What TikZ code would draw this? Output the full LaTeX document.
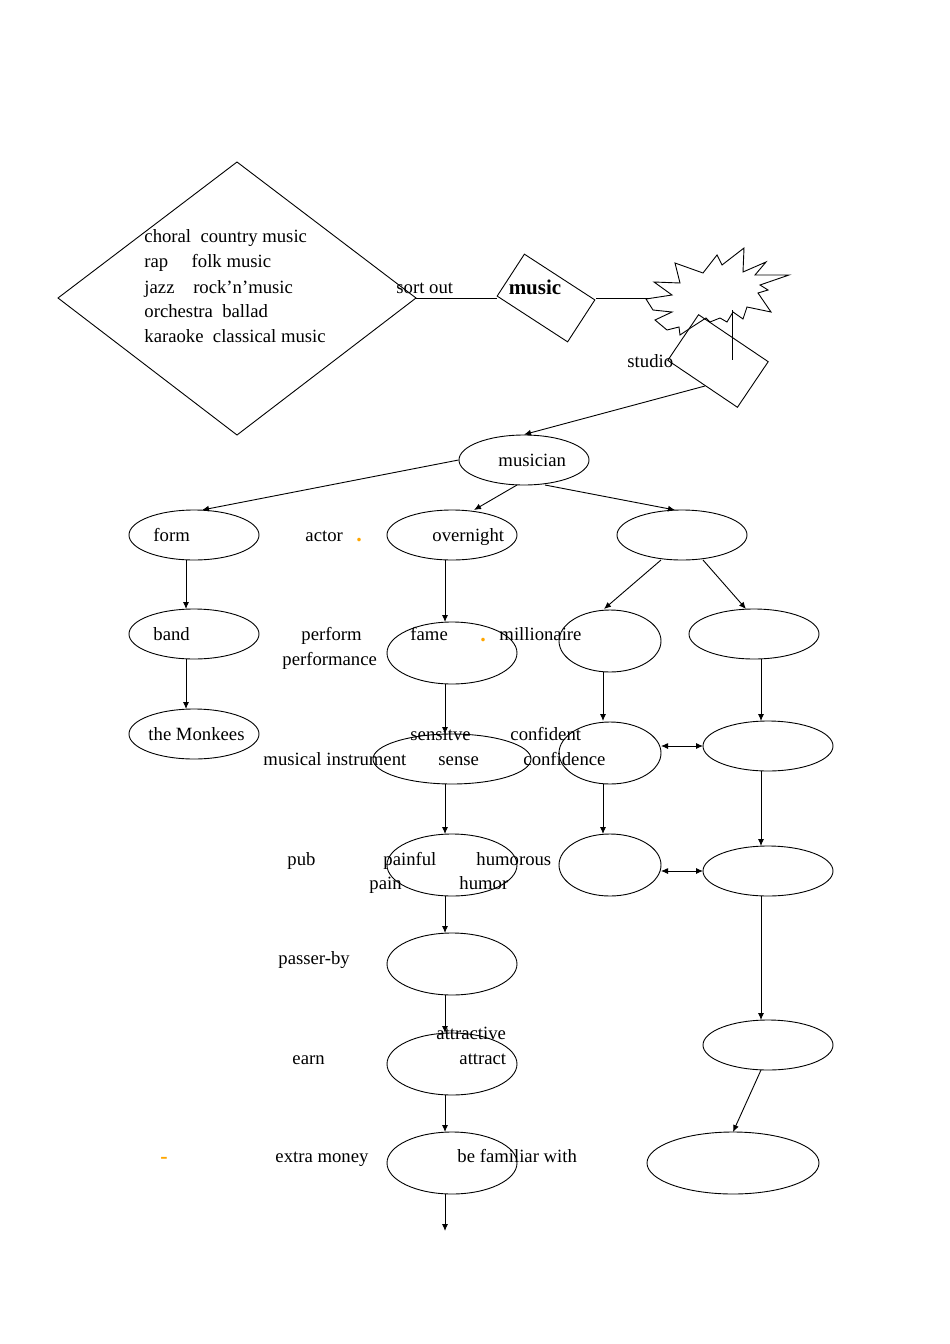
\documentclass[tikz,border=0pt]{standalone}
\usepackage{fontspec}
\setmainfont{Liberation Serif}
\usetikzlibrary{shapes.geometric,arrows.meta}
\begin{document}
\begin{tikzpicture}[x=1pt,y=-1pt,line width=0.9pt,
  every node/.style={font=\fontsize{18.7}{22}\selectfont,inner sep=0pt},
  el/.style={draw,ellipse,minimum width=130pt,minimum height=50pt},
  eb/.style={draw,ellipse,minimum width=130pt,minimum height=62pt},
  es/.style={draw,ellipse,minimum width=102pt,minimum height=62pt},
  t/.style={anchor=base west,yshift=-6pt},
  arr/.style={-{Latex[length=7pt,width=6pt]}},
  darr/.style={{Latex[length=7pt,width=6pt]}-{Latex[length=7pt,width=6pt]}},
  dot/.style={text=orange!70!yellow,font=\fontsize{22}{24}\selectfont\bfseries}]
\useasboundingbox (0,0) rectangle (950,1344);
% diamond
\coordinate (dl) at (58,298); \coordinate (dt) at (237,162);
\coordinate (dr) at (416,298); \coordinate (db) at (237,435);
\draw (dl)--(dt)--(dr)--(db)--cycle;
\foreach \y/\s in {236/{choral\ \ country music},261/{rap\ \ \ \ \ folk music},287/{jazz\ \ \ \ rock’n’music},311/{orchestra\ \ ballad},336/{karaoke\ \ classical music}}
  \node[t] at (144,\y) {\s};
% rotated rectangles
\node[draw,rectangle,minimum width=84pt,minimum height=50pt,rotate=-33] (mus) at (546,298) {};
\node[draw,rectangle,minimum width=84pt,minimum height=55pt,rotate=-34] (stu) at (718,361) {};
\node[font=\fontsize{21}{24}\selectfont\bfseries,anchor=base,yshift=-7pt] at (535,287) {music};
% starburst
\draw (646,299)--(672,295)--(654,282)--(680,283)--(675,263)--(703,273)--(717,255)--(722,265)--(744,248)--(743,272)--(766,262)--(755,275)--(789,275)--(760,285)--(768,290)--(758,293)--(771,312)--(747,307)--(743,319)--(733,312)--(727,322)--(720,318)--(710,322)--(706,318)--(692,327)--(680,335)--(679,327)--(667,330)--(655,320)--(672,312)--(653,310)--cycle;
\coordinate (vt) at (732,310); \coordinate (vb) at (732,360);
\draw (vt)--(vb);
\coordinate (a1) at (416,298); \coordinate (a2) at (497,298);
\coordinate (a3) at (596,298); \coordinate (a4) at (648,298);
\draw (a1)--(a2); \draw (a3)--(a4);
\node[t] at (396,287) {sort out};
\node[t] at (627,361) {studio};
% ellipses
\node[el] (mu) at (524,460) {};
\node[el] (form) at (194,535) {};
\node[el] (ov) at (452,535) {};
\node[el] (r1) at (682,535) {};
\node[el] (band) at (194,634) {};
\node[eb] (fame) at (452,653) {};
\node[es] (m2) at (610,641) {};
\node[el] (r2) at (754,634) {};
\node[el] (mk) at (194,734) {};
\node[draw,ellipse,minimum width=158pt,minimum height=50pt] (sen) at (452,759) {};
\node[es] (m3) at (610,753) {};
\node[el] (r3) at (768,746) {};
\node[eb] (c4) at (452,865) {};
\node[es] (m4) at (610,865) {};
\node[el] (r4) at (768,871) {};
\node[eb] (c5) at (452,964) {};
\node[el] (r5) at (768,1045) {};
\node[eb] (c6) at (452,1064) {};
\node[eb] (c7) at (452,1163) {};
\node[draw,ellipse,minimum width=172pt,minimum height=62pt] (r6) at (733,1163) {};
\coordinate (endc) at (445,1231);
% arrows
\draw[arr] (705,386) -- (mu.north);
\draw[arr] (mu.west) -- (202,510);
\draw[arr] (517,485) -- (474,510);
\draw[arr] (545,485) -- (675,510);
\draw[arr] (186,560) -- (186,609);
\draw[arr] (186,659) -- (186,709);
\draw[arr] (445,560) -- (445,622);
\draw[arr] (445,684) -- (445,734);
\draw[arr] (445,784) -- (445,834);
\draw[arr] (445,896) -- (445,933);
\draw[arr] (445,995) -- (445,1033);
\draw[arr] (445,1095) -- (445,1132);
\draw[arr] (445,1194) -- (endc);
\draw[arr] (661,560) -- (604,609);
\draw[arr] (703,560) -- (746,609);
\draw[arr] (603,672) -- (603,721);
\draw[arr] (761,659) -- (761,721);
\draw[arr] (603,784) -- (603,834);
\draw[arr] (761,771) -- (761,846);
\draw[darr] (661,746) -- (703,746);
\draw[darr] (661,871) -- (703,871);
\draw[arr] (761,896) -- (761,1020);
\draw[arr] (761,1070) -- (733,1132);
% texts
\node[t] at (498,460) {musician};
\node[t] at (153,535) {form};
\node[t] at (305,535) {actor};
\node[t,dot] at (356,535) {.};
\node[t] at (432,535) {overnight};
\node[t] at (153,634) {band};
\node[t] at (301,634) {perform};
\node[t] at (410,634) {fame};
\node[t,dot] at (480,635) {.};
\node[t] at (499,634) {millionaire};
\node[t] at (282,659) {performance};
\node[t] at (148,734) {the Monkees};
\node[t] at (410,734) {sensitve};
\node[t] at (510,734) {confident};
\node[t] at (263,759) {musical instrument};
\node[t] at (438,759) {sense};
\node[t] at (523,759) {confidence};
\node[t] at (287,859) {pub};
\node[t] at (383,859) {painful};
\node[t] at (476,859) {humorous};
\node[t] at (369,883) {pain};
\node[t] at (459,883) {humor};
\node[t] at (278,958) {passer-by};
\node[t] at (436,1033) {attractive};
\node[t] at (292,1058) {earn};
\node[t] at (459,1058) {attract};
\node[t] at (275,1156) {extra money};
\node[t] at (457,1156) {be familiar with};
\node[t,dot] at (160,1157) {-};
\end{tikzpicture}
\end{document}
